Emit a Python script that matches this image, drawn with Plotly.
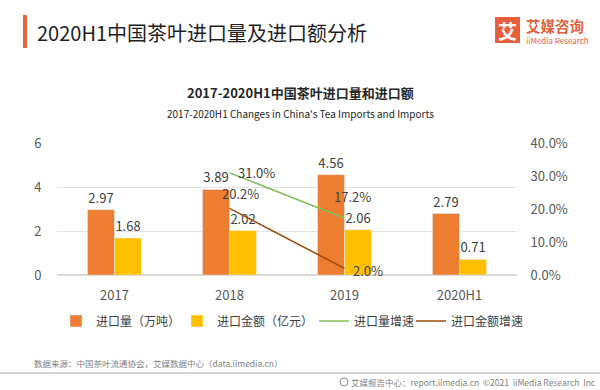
import plotly.graph_objects as go

categories = ["2017", "2018", "2019", "2020H1"]
import_volume = [2.97, 3.89, 4.56, 2.79]        # 万吨
import_value = [1.68, 2.02, 2.06, 0.71]         # 亿元
volume_growth = [None, 31.0, 17.2, None]        # %
value_growth = [None, 20.2, 2.0, None]          # %
legend_names = ["进口量（万吨）", "进口金额（亿元）", "进口量增速", "进口金额增速"]

W, H = 600, 390
L, R, T, B = 57, 83, 143, 115
PW, PH = W - L - R, H - T - B


def px(x):
    return (x - L) / PW


def py(y):
    return (H - B - y) / PH


FONT = "Noto Sans CJK SC"
ORANGE = "#ED7D31"
YELLOW = "#FFC000"
GREEN = "#84BD5A"
BROWN = "#9E480E"
TXT = "#404040"

fig = go.Figure()
fig.add_trace(go.Bar(
    x=categories, y=import_volume, name=legend_names[0], legend="legend",
    marker_color=ORANGE, text=[f"{v:.2f}" for v in import_volume],
    textposition="outside", textfont=dict(size=13, color=TXT), cliponaxis=False,
))
fig.add_trace(go.Bar(
    x=categories, y=import_value, name=legend_names[1], legend="legend2",
    marker_color=YELLOW, text=[f"{v:.2f}" for v in import_value],
    textposition="outside", textfont=dict(size=13, color=TXT), cliponaxis=False,
))
fig.add_trace(go.Scatter(
    x=categories, y=volume_growth, name=legend_names[2], legend="legend3", yaxis="y2",
    mode="lines", line=dict(color=GREEN, width=1.5), connectgaps=False,
))
fig.add_trace(go.Scatter(
    x=categories, y=value_growth, name=legend_names[3], legend="legend4", yaxis="y2",
    mode="lines", line=dict(color=BROWN, width=1.5), connectgaps=False,
))

# line data labels (x given as category index)
ann = []
vg_shifts = {1: dict(xanchor="left", xshift=6, yshift=0),
             2: dict(xanchor="center", xshift=8, yshift=22)}
bg_shifts = {1: dict(xanchor="center", xshift=11, yshift=15),
             2: dict(xanchor="left", xshift=6, yshift=-2)}
for series, shifts in ((volume_growth, vg_shifts), (value_growth, bg_shifts)):
    for i, v in enumerate(series):
        if v is None:
            continue
        s = shifts[i]
        ann.append(dict(x=i, y=v, xref="x", yref="y2",
                        text=f"{v:.1f}%", showarrow=False,
                        xanchor=s["xanchor"], yanchor="middle",
                        xshift=s["xshift"], yshift=s["yshift"],
                        font=dict(size=13, color=TXT, family=FONT)))

# titles and decorations
ann += [
    dict(x=px(35), y=py(32), xref="paper", yref="paper", xanchor="left", yanchor="middle",
         text="2020H1中国茶叶进口量及进口额分析", showarrow=False,
         font=dict(size=20, color="#1F1F1F", family=FONT)),
    dict(x=px(300), y=py(93), xref="paper", yref="paper", xanchor="center", yanchor="middle",
         text="<b>2017-2020H1中国茶叶进口量和进口额</b>", showarrow=False,
         font=dict(size=13, color="#262626", family=FONT)),
    dict(x=px(300), y=py(113), xref="paper", yref="paper", xanchor="center", yanchor="middle",
         text="2017-2020H1 Changes in China's Tea Imports and Imports", showarrow=False,
         font=dict(size=10, color="#262626", family=FONT)),
    dict(x=px(507), y=py(30), xref="paper", yref="paper", xanchor="center", yanchor="middle",
         text="<b>艾</b>", showarrow=False, font=dict(size=19, color="white", family=FONT)),
    dict(x=px(524), y=py(26), xref="paper", yref="paper", xanchor="left", yanchor="middle",
         text="<b>艾媒咨询</b>", showarrow=False, font=dict(size=14.5, color="#E5603B", family=FONT)),
    dict(x=px(524), y=py(40), xref="paper", yref="paper", xanchor="left", yanchor="middle",
         text="iiMedia Research", showarrow=False, font=dict(size=8, color="#E5603B", family=FONT)),
    dict(x=px(32), y=py(363), xref="paper", yref="paper", xanchor="left", yanchor="middle",
         text="数据来源：中国茶叶流通协会，艾媒数据中心（data.iimedia.cn）", showarrow=False,
         font=dict(size=8.5, color="#7F7F7F", family=FONT)),
    dict(x=px(598), y=py(382), xref="paper", yref="paper", xanchor="right", yanchor="middle",
         text="艾媒报告中心：report.iimedia.cn  ©2021  iiMedia Research  Inc", showarrow=False,
         font=dict(size=8.5, color="#7F7F7F", family=FONT)),
]

shapes = [
    dict(type="rect", xref="paper", yref="paper", x0=px(23), x1=px(27), y0=py(15), y1=py(48),
         fillcolor="#E8663D", line_width=0),
    dict(type="rect", xref="paper", yref="paper", x0=px(495), x1=px(520), y0=py(17), y1=py(43),
         fillcolor="#E5603B", line_width=0),
    dict(type="line", xref="paper", yref="paper", x0=px(0), x1=px(600), y0=py(373), y1=py(373),
         line=dict(color="#A6A6A6", width=1)),
    dict(type="circle", xref="paper", yref="paper", x0=px(340), x1=px(348), y0=py(378), y1=py(386),
         line=dict(color="#8C8C8C", width=1)),
]

legend_text_starts = [94, 215, 352, 449]


def legend_cfg(text_x):
    return dict(orientation="h", x=px(text_x - 38), xanchor="left", y=py(321), yanchor="middle",
                font=dict(size=12, color=TXT, family=FONT), itemwidth=30,
                bgcolor="rgba(0,0,0,0)")


fig.update_layout(
    width=W, height=H,
    margin=dict(l=L, r=R, t=T, b=B, pad=0, autoexpand=False),
    paper_bgcolor="white", plot_bgcolor="white",
    barmode="group", bargap=0.53, bargroupgap=0,
    font=dict(family=FONT, color="#595959", size=13),
    showlegend=True,
    legend=legend_cfg(legend_text_starts[0]),
    legend2=legend_cfg(legend_text_starts[1]),
    legend3=legend_cfg(legend_text_starts[2]),
    legend4=legend_cfg(legend_text_starts[3]),
    xaxis=dict(type="category", categoryorder="array", categoryarray=categories,
               range=[-0.5, len(categories) - 0.5], autorange=False,
               showgrid=False, showline=False, zeroline=False,
               ticks="outside", ticklen=8, tickcolor="rgba(0,0,0,0)",
               tickfont=dict(size=13, color="#595959")),
    yaxis=dict(range=[0, 6], dtick=2, showgrid=True, gridcolor="#E3E3E3", gridwidth=1,
               zeroline=True, zerolinecolor="#D9D9D9", showline=False,
               ticks="outside", ticklen=12, tickcolor="rgba(0,0,0,0)",
               tickfont=dict(size=13, color="#595959")),
    yaxis2=dict(range=[0, 40], dtick=10, overlaying="y", side="right", showgrid=False,
                zeroline=False, showline=False, ticksuffix="%", tickformat=".1f",
                ticks="outside", ticklen=10, tickcolor="rgba(0,0,0,0)",
                tickfont=dict(size=13, color="#595959")),
    annotations=ann,
    shapes=shapes,
)

fig.write_html("out.html", config={"displayModeBar": False},
               post_script="document.body.style.margin='0px';")
